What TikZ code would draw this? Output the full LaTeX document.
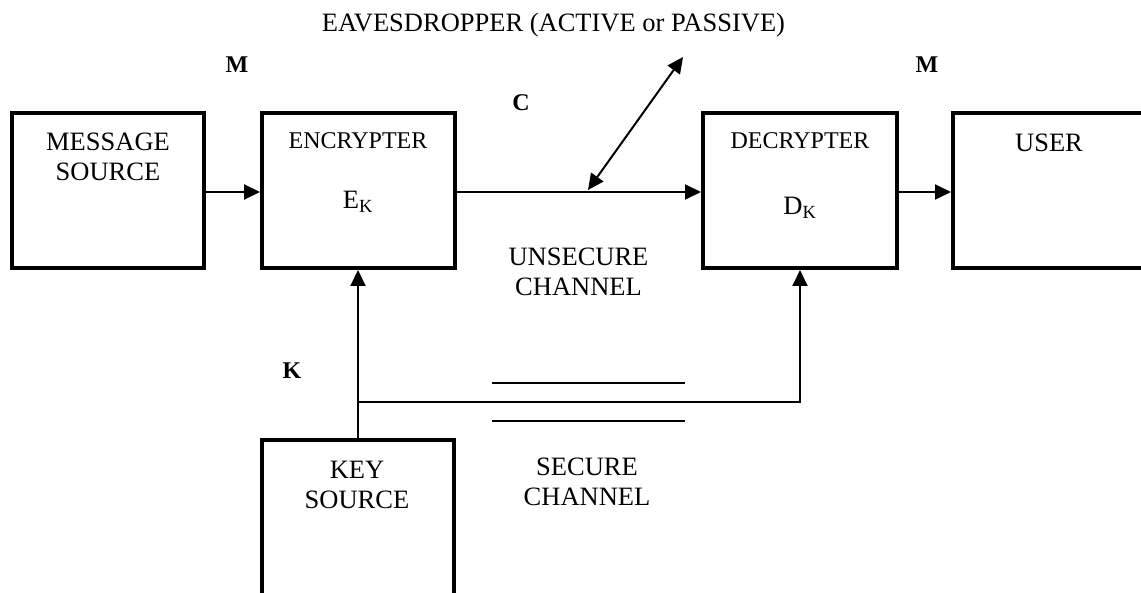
\documentclass[tikz,border=0pt]{standalone}
\usepackage{fontspec}
\setmainfont{Liberation Serif}
\usetikzlibrary{arrows.meta}
\tikzset{
  bighead/.tip={Triangle[length=16pt,width=15pt]},
  block/.style={draw, line width=4pt, rectangle, inner sep=0pt},
  txt/.style={font=\fontsize{26.5}{30}\selectfont, align=center, inner sep=0pt},
  small/.style={font=\fontsize{24}{28}\selectfont, align=center, inner sep=0pt},
  sym/.style={font=\fontsize{24}{28}\selectfont\bfseries, inner sep=0pt},
  flow/.style={line width=2pt, -bighead},
  both/.style={line width=2pt, bighead-bighead},
  wire/.style={line width=2pt},
}
\begin{document}
\begin{tikzpicture}[x=1pt,y=-1pt]
\useasboundingbox (0,0) rectangle (1141,593);
\clip (0,0) rectangle (1141,593);

% blocks
\node[block, minimum width=192pt, minimum height=155pt] (src) at (108,190.5) {};
\node[block, minimum width=193pt, minimum height=155pt] (enc) at (358.5,190.5) {};
\node[block, minimum width=194pt, minimum height=155pt] (dec) at (800,190.5) {};
\node[block, minimum width=240pt, minimum height=155pt] (usr) at (1073,190.5) {};
\node[block, minimum width=192pt, minimum height=220pt] (key) at (358,550) {};

% block captions
\node[txt] (srcL) at (108,157) {MESSAGE\\SOURCE};
\node[small] (encL) at (358,141) {ENCRYPTER};
\node[txt] (encK) at (358,202) {E\textsubscript{K}};
\node[small] (decL) at (800,141) {DECRYPTER};
\node[txt] (decK) at (800,208) {D\textsubscript{K}};
\node[txt] (usrL) at (1049,143) {USER};
\node[txt] (keyL) at (357,485) {KEY\\SOURCE};

% channel captions and symbols
\node[txt] (eav) at (553.5,25) {EAVESDROPPER (ACTIVE or PASSIVE)};
\node[txt] (uns) at (578.5,272) {UNSECURE\\CHANNEL};
\node[txt] (sec) at (587,482) {SECURE\\CHANNEL};
\node[sym] (m1) at (237,65) {M};
\node[sym] (c) at (521,103) {C};
\node[sym] (m2) at (927,65) {M};
\node[sym] (k) at (292,371) {K};

% message path
\draw[flow] (src.east |- 0,192) -- (enc.west |- 0,192);
\draw[flow] (enc.east |- 0,192) -- (dec.west |- 0,192);
\draw[flow] (dec.east |- 0,192) -- (usr.west |- 0,192);

% eavesdropper tap on the channel
\coordinate (tap) at (588,190);
\coordinate (spy) at (683,57);
\draw[both] (tap) -- (spy);

% key distribution
\coordinate (split) at (358,402);
\draw[flow] (key.north -| split) -- (split) -- (enc.south -| split);
\draw[flow] (split) -- (dec.south |- split) -- (dec.south);

% secure channel marks
\coordinate (s1a) at (492,383);
\coordinate (s1b) at (685,383);
\coordinate (s2a) at (492,421);
\coordinate (s2b) at (685,421);
\draw[wire] (s1a) -- (s1b);
\draw[wire] (s2a) -- (s2b);
\end{tikzpicture}
\end{document}
